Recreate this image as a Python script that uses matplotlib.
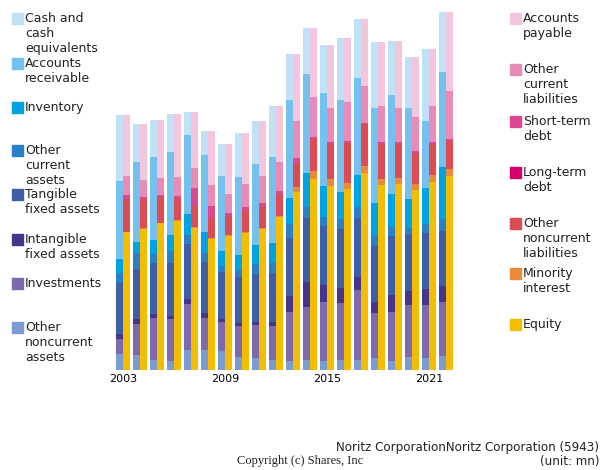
import matplotlib
matplotlib.use("Agg")
import matplotlib.pyplot as plt
from matplotlib.patches import Rectangle
import numpy as np

years = list(range(2003, 2023))
tick_years = [2003, 2009, 2015, 2021]

# Assets (bottom to top order listed later)
cash = [65.7, 37.3, 37, 38.3, 23, 23.7, 31.7, 44.3, 42.7, 51, 45.7, 46, 48.3, 61.3, 58.7, 65.7, 53.7, 51, 72, 60]
receivable = [78.7, 80, 82.7, 82.7, 79, 77, 74.7, 77.7, 81, 86, 97.7, 98.7, 92.3, 92, 96.7, 95.3, 99, 91, 66.7, 94.7]
inventory = [13.3, 11.7, 14, 15.7, 21, 21, 15.3, 15.7, 19.7, 19.7, 26.7, 34, 31, 27.7, 32, 32.7, 33.7, 28.7, 36, 52.7]
other_current = [10.7, 16, 9.7, 12, 9.7, 9, 5.7, 6.3, 9.3, 10, 13.3, 11.7, 9, 9.3, 11, 10, 8.3, 7.7, 9.7, 11.3]
tangible = [51, 50, 50.3, 53, 55, 51, 47.3, 46.3, 48.7, 49.7, 58, 63.3, 59, 59.7, 59, 56, 59.7, 55.7, 56, 55.7]
intangible = [4.7, 4.7, 4.3, 3.3, 4.7, 5.3, 3.3, 3, 3, 3.7, 16.3, 25.3, 17, 14.7, 13.3, 11.3, 16.7, 14, 15.7, 15.7]
investments = [15, 31, 42, 42.3, 46, 32, 28.7, 31, 33, 34, 49, 53, 59.3, 57.3, 70.3, 45.3, 48.7, 52, 53, 54]
other_noncurrent = [16, 15, 10, 8.7, 20, 20, 19, 13, 11.7, 10, 9, 10, 9, 9.7, 9.7, 11.7, 9.3, 13, 12, 14]

# Liabilities and equity
payable = [61, 55.7, 58, 63, 56.3, 54, 49.7, 51, 55, 56, 66.7, 68.7, 63, 63.7, 66.3, 64, 67, 60, 57, 78.7]
other_current_liab = [18.7, 17.3, 17.3, 18.7, 20, 21, 19, 23.3, 27, 28.7, 37, 40, 34.3, 39, 37.7, 36, 34, 34, 36.3, 48]
short_debt = [4, 1.3, 1.3, 2, 17.7, 11.7, 2.7, 3.7, 3.3, 3, 5.7, 2.7, 1.3, 1.7, 1, 1.7, 1.7, 1.7, 1.3, 2.7]
long_debt = [0] * 20
other_noncurrent_liab = [33, 29, 26, 22.3, 21, 20, 19, 21, 21.7, 22.3, 23.3, 31.7, 35.3, 40.7, 41.7, 35.3, 34.3, 31.3, 31.3, 27.7]
minority = [0.7, 1, 0.5, 1, 1, 1, 1, 1, 1, 1, 4.7, 8.3, 7, 6, 7.3, 6, 5.7, 6, 7, 7]
equity = [137.7, 141.3, 147, 149, 142.3, 131.3, 134.3, 137.3, 141, 153, 178.3, 190.7, 184, 180.7, 196.7, 185, 186.3, 180, 188, 194]

asset_labels = ["Cash and\ncash\nequivalents", "Accounts\nreceivable", "Inventory",
                "Other\ncurrent\nassets", "Tangible\nfixed assets", "Intangible\nfixed assets",
                "Investments", "Other\nnoncurrent\nassets"]
asset_series = [cash, receivable, inventory, other_current, tangible, intangible, investments, other_noncurrent]
asset_colors = ["#c0e1f6", "#74c0ee", "#00a3e2", "#2a80c8", "#3e5ea8", "#46358a", "#7d6aae", "#7b9bd3"]

liab_labels = ["Accounts\npayable", "Other\ncurrent\nliabilities", "Short-term\ndebt", "Long-term\ndebt",
               "Other\nnoncurrent\nliabilities", "Minority\ninterest", "Equity"]
liab_series = [payable, other_current_liab, short_debt, long_debt, other_noncurrent_liab, minority, equity]
liab_colors = ["#f4c6de", "#e98ab7", "#dd4990", "#d5006b", "#de4b53", "#ec8a3c", "#f5bd00"]

W, H = 600, 470
fig = plt.figure(figsize=(W / 100, H / 100), dpi=100)

def fx(x):
    return x / W

def fy(y):
    return 1 - y / H

# axes: baseline at y=370, top at y=10; year spacing 17 px, 2003 centered at x=123
ax_left_px, ax_right_px = 110, 459
ax = fig.add_axes([fx(ax_left_px), fy(370), fx(ax_right_px - ax_left_px), (370 - 10) / H])
x0 = 2003 - (123 - ax_left_px) / 17
x1 = x0 + (ax_right_px - ax_left_px) / 17
ax.set_xlim(x0, x1)
ax.set_ylim(0, 360)

x = np.array(years, dtype=float)
bw = 7 / 17

bottom = np.zeros(len(years))
for vals, col in zip(reversed(asset_series), reversed(asset_colors)):
    v = np.array(vals, dtype=float)
    ax.bar(x - bw / 2, v, width=bw, bottom=bottom, color=col, linewidth=0)
    bottom += v

bottom = np.zeros(len(years))
for vals, col in zip(reversed(liab_series), reversed(liab_colors)):
    v = np.array(vals, dtype=float)
    ax.bar(x + bw / 2, v, width=bw, bottom=bottom, color=col, linewidth=0)
    bottom += v

for s in ax.spines.values():
    s.set_visible(False)
ax.set_yticks([])
ax.set_xticks(tick_years)
ax.set_xticklabels([str(t) for t in tick_years], fontsize=8)
ax.tick_params(axis="x", length=0, pad=3)

# legends
left_tops = [13, 58, 102, 145, 189, 234, 278, 322]
for lab, col, top in zip(asset_labels, asset_colors, left_tops):
    fig.add_artist(Rectangle((fx(12), fy(top + 11)), fx(11), 11 / H, color=col,
                             transform=fig.transFigure))
    fig.text(fx(25), fy(top - 1), lab, fontsize=9, va="top", ha="left", color="#222222",
             linespacing=1.2)

right_tops = [13, 64, 116, 167, 218, 268, 319]
for lab, col, top in zip(liab_labels, liab_colors, right_tops):
    fig.add_artist(Rectangle((fx(510), fy(top + 11)), fx(11), 11 / H, color=col,
                             transform=fig.transFigure))
    fig.text(fx(523), fy(top - 1), lab, fontsize=9, va="top", ha="left", color="#222222",
             linespacing=1.2)

fig.text(fx(599), fy(447), "Noritz CorporationNoritz Corporation (5943)", fontsize=8.6,
         ha="right", va="center", color="#222222")
fig.text(fx(599), fy(461), "(unit: mn)", fontsize=8.6, ha="right", va="center", color="#222222")
fig.text(fx(300), fy(461), "Copyright (c) Shares, Inc", fontsize=9, ha="center", va="center",
         family="Liberation Serif", color="#222222")

fig.savefig("out.png", dpi=100)
